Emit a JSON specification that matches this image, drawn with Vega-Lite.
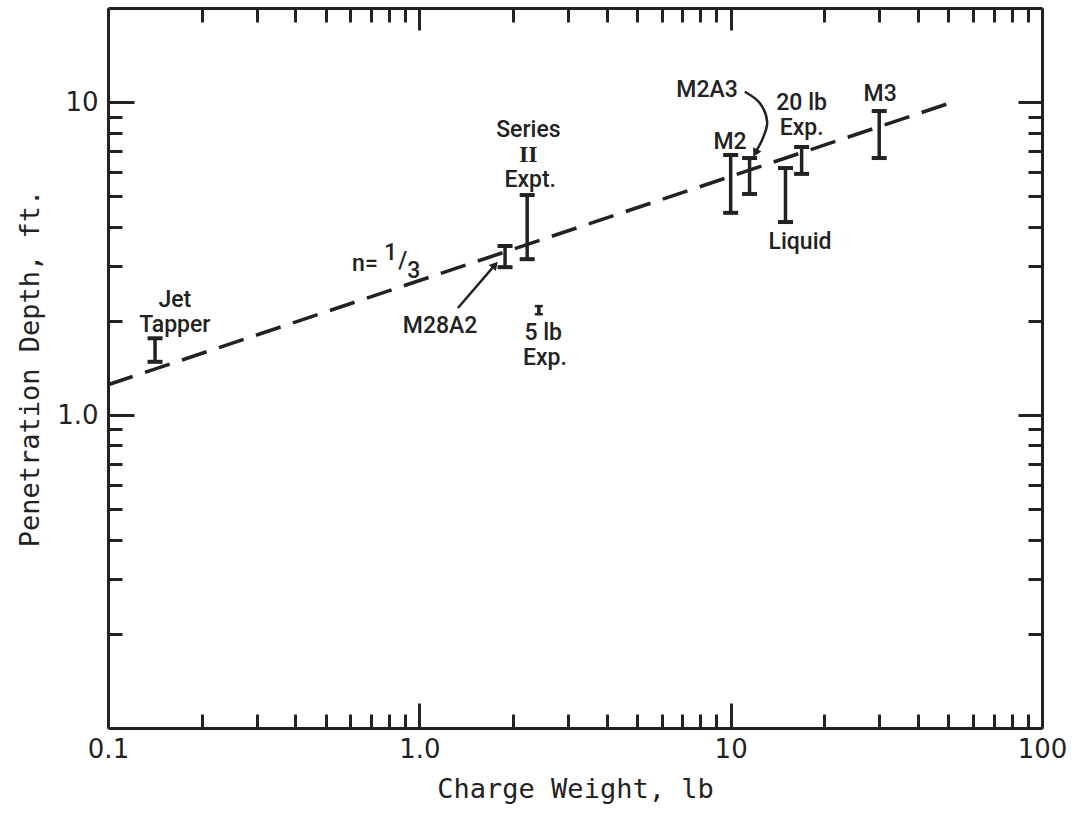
{
  "$schema": "https://vega.github.io/schema/vega-lite/v6.json",
  "width": 934,
  "height": 720,
  "autosize": "none",
  "padding": {"left": 108, "top": 8, "right": 39, "bottom": 85},
  "background": "white",
  "config": {
    "view": {"stroke": null},
    "font": "DejaVu Sans",
    "axis": {
      "grid": false,
      "domainColor": "#222",
      "domainWidth": 3,
      "tickColor": "#222",
      "tickWidth": 3,
      "labelColor": "#222",
      "labelFont": "DejaVu Sans",
      "labelFontSize": 26,
      "labelFlush": false,
      "labelOverlap": false,
      "titleColor": "#222",
      "titleFont": "DejaVu Sans Mono",
      "titleFontSize": 27,
      "titleFontWeight": "normal"
    }
  },
  "datasets": {
    "fit": [
      {"w": 0.1, "d": 1.25},
      {"w": 50, "d": 9.9}
    ],
    "bars": [
      {"name": "Jet Tapper", "w": 0.1416, "lo": 1.48, "hi": 1.76},
      {"name": "M28A2", "w": 1.885, "lo": 2.97, "hi": 3.47},
      {"name": "Series II Expt.", "w": 2.22, "lo": 3.15, "hi": 5.05},
      {"name": "5 lb Exp.", "w": 2.42, "lo": 2.1, "hi": 2.23},
      {"name": "M2", "w": 10.0, "lo": 4.43, "hi": 6.78},
      {"name": "M2A3", "w": 11.5, "lo": 5.09, "hi": 6.63},
      {"name": "Liquid", "w": 15.0, "lo": 4.14, "hi": 6.16},
      {"name": "20 lb Exp.", "w": 16.9, "lo": 5.9, "hi": 7.19},
      {"name": "M3", "w": 30.0, "lo": 6.63, "hi": 9.37}
    ],
    "labels": [
      {"text": "Jet", "w": 0.164, "d": 2.34},
      {"text": "Tapper", "w": 0.164, "d": 1.94},
      {"text": "n=", "w": 0.669, "d": 3.04},
      {"text": "1", "w": 0.808, "d": 3.3},
      {"text": "/", "w": 0.885, "d": 3.1},
      {"text": "3", "w": 0.96, "d": 2.89},
      {"text": "Series", "w": 2.24, "d": 8.15},
      {"text": "Expt.", "w": 2.27, "d": 5.64},
      {"text": "M28A2", "w": 1.166, "d": 1.93},
      {"text": "5 lb", "w": 2.5, "d": 1.83},
      {"text": "Exp.", "w": 2.53, "d": 1.52},
      {"text": "M2", "w": 9.95, "d": 7.46},
      {"text": "M2A3", "w": 8.4, "d": 10.9},
      {"text": "20 lb", "w": 16.9, "d": 9.94},
      {"text": "Exp.", "w": 16.9, "d": 8.27},
      {"text": "M3", "w": 30.2, "d": 10.6},
      {"text": "Liquid", "w": 16.7, "d": 3.57}
    ],
    "numeral": [
      {"text": "II", "w": 2.24, "d": 6.78}
    ],
    "arrows": [
      {"arrow": "M28A2", "seq": 0, "w": 1.33, "d": 2.2},
      {"arrow": "M28A2", "seq": 1, "w": 1.72, "d": 2.96},
      {"arrow": "M2A3", "seq": 0, "w": 11.1, "d": 10.8},
      {"arrow": "M2A3", "seq": 1, "w": 12.4, "d": 9.94},
      {"arrow": "M2A3", "seq": 2, "w": 13.1, "d": 8.64},
      {"arrow": "M2A3", "seq": 3, "w": 12.7, "d": 7.69},
      {"arrow": "M2A3", "seq": 4, "w": 12.1, "d": 7.0}
    ],
    "heads": [
      {"arrow": "M28A2", "w": 1.75, "d": 3.02},
      {"arrow": "M2A3", "w": 12.0, "d": 6.88}
    ]
  },
  "layer": [
    {
      "data": {"name": "fit"},
      "mark": {"type": "line", "color": "#222", "strokeWidth": 3.5, "strokeDash": [26, 13]},
      "encoding": {
        "x": {"field": "w", "type": "quantitative",
          "scale": {"type": "log", "domain": [0.1, 100], "nice": false},
          "axis": {"orient": "bottom", "values": [0.1, 1, 10, 100], "tickSize": -25, "labelPadding": 33,
            "labelExpr": "datum.value < 0.5 ? '0.1' : datum.value < 5 ? '1.0' : datum.value < 50 ? '10' : '100'",
            "title": "Charge Weight, lb", "titlePadding": 14}},
        "y": {"field": "d", "type": "quantitative",
          "scale": {"type": "log", "domain": [0.1, 20], "nice": false},
          "axis": {"orient": "left", "values": [1, 10], "tickSize": -26, "labelPadding": 36,
            "labelExpr": "datum.value < 5 ? '1.0' : '10'",
            "title": "Penetration Depth, ft.", "titlePadding": 12}}
      }
    },
    {
      "data": {"name": "bars"},
      "mark": {"type": "rule", "color": "#222", "strokeWidth": 3.5, "opacity": 1},
      "encoding": {
        "x": {"field": "w", "type": "quantitative",
          "scale": {"type": "log", "domain": [0.1, 100], "nice": false},
          "axis": {"orient": "bottom", "values": [0.2, 0.3, 0.4, 0.5, 0.6, 0.7, 0.8, 0.9, 2, 3, 4, 5, 6, 7, 8, 9, 20, 30, 40, 50, 60, 70, 80, 90],
            "tickSize": -14, "labels": false, "domain": false, "title": null}},
        "y": {"field": "lo", "type": "quantitative",
          "scale": {"type": "log", "domain": [0.1, 20], "nice": false},
          "axis": {"orient": "left", "values": [0.2, 0.3, 0.4, 0.5, 0.6, 0.7, 0.8, 0.9, 2, 3, 4, 5, 6, 7, 8, 9],
            "tickSize": -14, "labels": false, "domain": false, "title": null}},
        "y2": {"field": "hi"}
      }
    },
    {
      "data": {"name": "bars"},
      "transform": [
        {"filter": "datum.name != '5 lb Exp.'"},
        {"fold": ["lo", "hi"], "as": ["end", "val"]}
      ],
      "mark": {"type": "tick", "orient": "horizontal", "color": "#222", "opacity": 1, "size": 15, "thickness": 4},
      "encoding": {
        "x": {"field": "w", "type": "quantitative",
          "scale": {"type": "log", "domain": [0.1, 100], "nice": false},
          "axis": {"orient": "top", "values": [0.1, 1, 10, 100], "tickSize": -22, "labels": false, "domain": true, "title": null}},
        "y": {"field": "val", "type": "quantitative",
          "scale": {"type": "log", "domain": [0.1, 20], "nice": false},
          "axis": {"orient": "right", "values": [1, 10], "tickSize": -24, "labels": false, "domain": true, "title": null}}
      }
    },
    {
      "data": {"name": "bars"},
      "transform": [
        {"filter": "datum.name == '5 lb Exp.'"},
        {"fold": ["lo", "hi"], "as": ["end", "val"]}
      ],
      "mark": {"type": "tick", "orient": "horizontal", "color": "#222", "opacity": 1, "size": 8, "thickness": 2.5},
      "encoding": {
        "x": {"field": "w", "type": "quantitative",
          "scale": {"type": "log", "domain": [0.1, 100], "nice": false},
          "axis": {"orient": "top", "values": [0.2, 0.3, 0.4, 0.5, 0.6, 0.7, 0.8, 0.9, 2, 3, 4, 5, 6, 7, 8, 9, 20, 30, 40, 50, 60, 70, 80, 90],
            "tickSize": -14, "labels": false, "domain": false, "title": null}},
        "y": {"field": "val", "type": "quantitative",
          "scale": {"type": "log", "domain": [0.1, 20], "nice": false},
          "axis": {"orient": "right", "values": [0.2, 0.3, 0.4, 0.5, 0.6, 0.7, 0.8, 0.9, 2, 3, 4, 5, 6, 7, 8, 9],
            "tickSize": -14, "labels": false, "domain": false, "title": null}}
      }
    },
    {
      "data": {"name": "labels"},
      "mark": {"type": "text", "color": "#222", "font": "Roboto", "fontWeight": 500, "fontSize": 23, "align": "center", "baseline": "middle"},
      "encoding": {
        "x": {"field": "w", "type": "quantitative", "scale": {"type": "log", "domain": [0.1, 100], "nice": false}, "axis": null},
        "y": {"field": "d", "type": "quantitative", "scale": {"type": "log", "domain": [0.1, 20], "nice": false}, "axis": null},
        "text": {"field": "text"}
      }
    },
    {
      "data": {"name": "numeral"},
      "mark": {"type": "text", "color": "#222", "font": "Liberation Serif", "fontWeight": "bold", "fontSize": 24, "align": "center", "baseline": "middle"},
      "encoding": {
        "x": {"field": "w", "type": "quantitative", "scale": {"type": "log", "domain": [0.1, 100], "nice": false}, "axis": null},
        "y": {"field": "d", "type": "quantitative", "scale": {"type": "log", "domain": [0.1, 20], "nice": false}, "axis": null},
        "text": {"field": "text"}
      }
    },
    {
      "data": {"name": "arrows"},
      "mark": {"type": "line", "color": "#222", "strokeWidth": 2.5, "interpolate": "catmull-rom"},
      "encoding": {
        "x": {"field": "w", "type": "quantitative", "scale": {"type": "log", "domain": [0.1, 100], "nice": false}, "axis": null},
        "y": {"field": "d", "type": "quantitative", "scale": {"type": "log", "domain": [0.1, 20], "nice": false}, "axis": null},
        "detail": {"field": "arrow"},
        "order": {"field": "seq"}
      }
    },
    {
      "data": {"name": "heads"},
      "transform": [{"filter": "datum.arrow == 'M28A2'"}],
      "mark": {"type": "point", "shape": "triangle-up", "filled": true, "color": "#222", "opacity": 1, "size": 90, "angle": 41},
      "encoding": {
        "x": {"field": "w", "type": "quantitative", "scale": {"type": "log", "domain": [0.1, 100], "nice": false}, "axis": null},
        "y": {"field": "d", "type": "quantitative", "scale": {"type": "log", "domain": [0.1, 20], "nice": false}, "axis": null}
      }
    },
    {
      "data": {"name": "heads"},
      "transform": [{"filter": "datum.arrow == 'M2A3'"}],
      "mark": {"type": "point", "shape": "triangle-up", "filled": true, "color": "#222", "opacity": 1, "size": 90, "angle": 208},
      "encoding": {
        "x": {"field": "w", "type": "quantitative", "scale": {"type": "log", "domain": [0.1, 100], "nice": false}, "axis": null},
        "y": {"field": "d", "type": "quantitative", "scale": {"type": "log", "domain": [0.1, 20], "nice": false}, "axis": null}
      }
    }
  ],
  "resolve": {"axis": {"x": "independent", "y": "independent"}}
}
